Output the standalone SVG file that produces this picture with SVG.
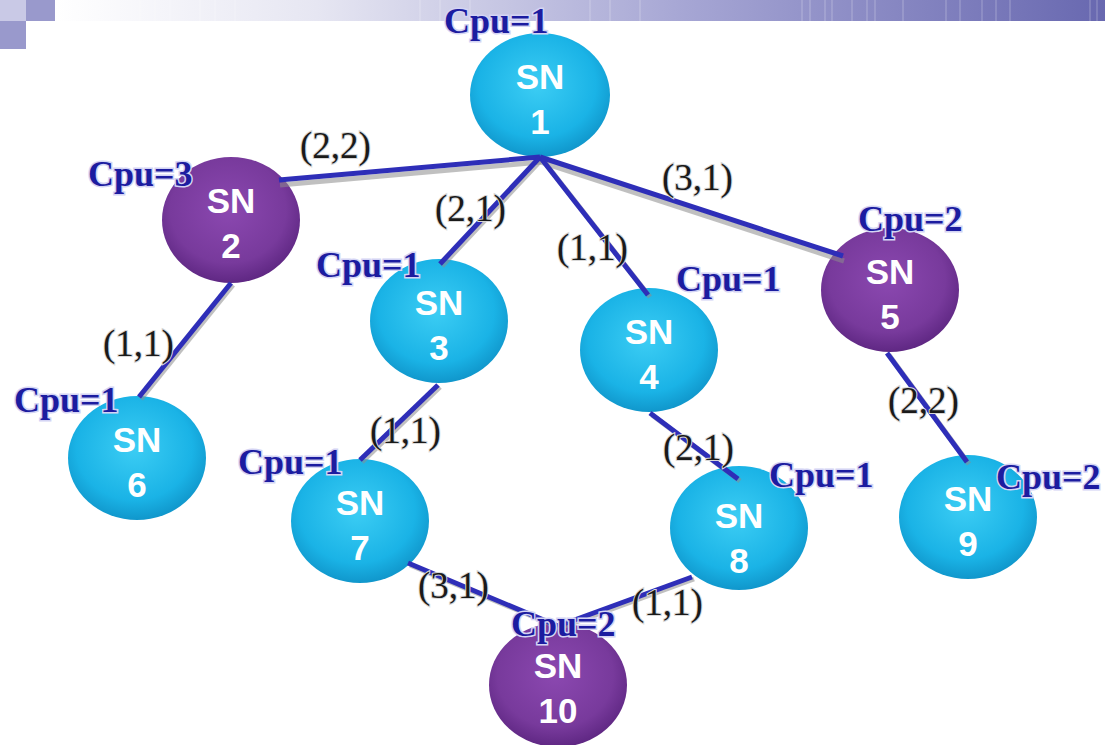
<svg xmlns="http://www.w3.org/2000/svg" width="1105" height="745" viewBox="0 0 1105 745">
  <defs>
    <linearGradient id="bannerGrad" x1="0" y1="0" x2="1" y2="0">
      <stop offset="0" stop-color="#ffffff"/>
      <stop offset="0.25" stop-color="#e6e6f2"/>
      <stop offset="0.6" stop-color="#a6a6d4"/>
      <stop offset="1" stop-color="#6868b0"/>
    </linearGradient>
    <radialGradient id="cyanFill" cx="0.48" cy="0.42" r="0.6">
      <stop offset="0" stop-color="#3ccdf4"/>
      <stop offset="0.7" stop-color="#1ab3e6"/>
      <stop offset="1" stop-color="#0f93c8"/>
    </radialGradient>
    <radialGradient id="purpleFill" cx="0.48" cy="0.42" r="0.6">
      <stop offset="0" stop-color="#8b48b0"/>
      <stop offset="0.7" stop-color="#783a9c"/>
      <stop offset="1" stop-color="#5c2580"/>
    </radialGradient>
    <style>
      .cyan { fill: url(#cyanFill); }
      .purple { fill: url(#purpleFill); }
      .sn { font-family: "Liberation Sans", Arial, sans-serif; font-weight: bold; font-size: 35px; fill: #ffffff; text-anchor: middle; }
      .link { stroke: #2e2eb8; stroke-width: 5; stroke-linecap: butt; fill: none; }
      .link-shadow { stroke: #8c8c8c; stroke-width: 5; opacity: 0.55; fill: none; }
      .weight { font-family: "Liberation Serif", "Times New Roman", serif; font-size: 37px; fill: #1a1a1a; stroke: #d8d8d8; stroke-width: 2; paint-order: stroke; }
      .cpu { font-family: "Liberation Serif", "Times New Roman", serif; font-weight: bold; font-size: 36px; fill: #1c1ca0; stroke: #d4d4f4; stroke-width: 3; paint-order: stroke; }
    </style>
  </defs>

  <!-- header band -->
  <g id="header">
    <rect x="55" y="0" width="1050" height="21" fill="url(#bannerGrad)"/>
    <g stroke="#ffffff" stroke-opacity="0.3" stroke-width="1">
      <line x1="140" y1="0" x2="140" y2="21"/>
      <line x1="155" y1="0" x2="155" y2="21"/>
      <line x1="170" y1="0" x2="170" y2="21"/>
      <line x1="200" y1="0" x2="200" y2="21"/>
      <line x1="215" y1="0" x2="215" y2="21"/>
      <line x1="235" y1="0" x2="235" y2="21"/>
      <line x1="420" y1="0" x2="420" y2="21"/>
      <line x1="440" y1="0" x2="440" y2="21"/>
      <line x1="470" y1="0" x2="470" y2="21"/>
      <line x1="590" y1="0" x2="590" y2="21"/>
      <line x1="610" y1="0" x2="610" y2="21"/>
      <line x1="640" y1="0" x2="640" y2="21"/>
      <line x1="802" y1="0" x2="802" y2="21"/>
      <line x1="810" y1="0" x2="810" y2="21"/>
      <line x1="825" y1="0" x2="825" y2="21"/>
      <line x1="832" y1="0" x2="832" y2="21"/>
      <line x1="852" y1="0" x2="852" y2="21"/>
      <line x1="867" y1="0" x2="867" y2="21"/>
      <line x1="875" y1="0" x2="875" y2="21"/>
      <line x1="903" y1="0" x2="903" y2="21"/>
      <line x1="946" y1="0" x2="946" y2="21"/>
      <line x1="960" y1="0" x2="960" y2="21"/>
      <line x1="982" y1="0" x2="982" y2="21"/>
      <line x1="996" y1="0" x2="996" y2="21"/>
      <line x1="1010" y1="0" x2="1010" y2="21"/>
      <line x1="1090" y1="0" x2="1090" y2="21"/>
      <line x1="1097" y1="0" x2="1097" y2="21"/>
    </g>
    <rect x="0" y="0" width="26" height="21" fill="#c9c9e6"/>
    <rect x="26" y="0" width="29" height="21" fill="#9999cc"/>
    <rect x="0" y="21" width="26" height="28" fill="#9999cc"/>
  </g>

  <!-- substrate nodes -->
  <g id="sn1">
    <ellipse class="cyan" cx="540" cy="95" rx="70" ry="62"/>
    <text class="sn" x="540" y="89">SN</text>
    <text class="sn" x="540" y="134">1</text>
  </g>
  <g id="sn2">
    <ellipse class="purple" cx="231" cy="220" rx="69" ry="63"/>
    <text class="sn" x="231" y="213">SN</text>
    <text class="sn" x="231" y="258">2</text>
  </g>
  <g id="sn3">
    <ellipse class="cyan" cx="439" cy="321" rx="69" ry="62"/>
    <text class="sn" x="439" y="315">SN</text>
    <text class="sn" x="439" y="360">3</text>
  </g>
  <g id="sn4">
    <ellipse class="cyan" cx="649" cy="350" rx="69" ry="62"/>
    <text class="sn" x="649" y="344">SN</text>
    <text class="sn" x="649" y="389">4</text>
  </g>
  <g id="sn5">
    <ellipse class="purple" cx="890" cy="290" rx="69" ry="62"/>
    <text class="sn" x="890" y="284">SN</text>
    <text class="sn" x="890" y="329">5</text>
  </g>
  <g id="sn6">
    <ellipse class="cyan" cx="137" cy="458" rx="69" ry="62"/>
    <text class="sn" x="137" y="452">SN</text>
    <text class="sn" x="137" y="497">6</text>
  </g>
  <g id="sn7">
    <ellipse class="cyan" cx="360" cy="521" rx="69" ry="62"/>
    <text class="sn" x="360" y="515">SN</text>
    <text class="sn" x="360" y="560">7</text>
  </g>
  <g id="sn8">
    <ellipse class="cyan" cx="739" cy="528" rx="69" ry="62"/>
    <text class="sn" x="739" y="528">SN</text>
    <text class="sn" x="739" y="573">8</text>
  </g>
  <g id="sn9">
    <ellipse class="cyan" cx="968" cy="517" rx="69" ry="62"/>
    <text class="sn" x="968" y="511">SN</text>
    <text class="sn" x="968" y="556">9</text>
  </g>
  <g id="sn10">
    <ellipse class="purple" cx="558" cy="685" rx="69" ry="62"/>
    <text class="sn" x="558" y="678">SN</text>
    <text class="sn" x="558" y="723">10</text>
  </g>

  <!-- links with (bandwidth, delay) weights -->
  <g id="connectors">
    <g transform="translate(1,5)">
      <line class="link-shadow" x1="540" y1="157" x2="279" y2="180"/>
      <line class="link-shadow" x1="540" y1="157" x2="843" y2="256"/>
    </g>
    <g transform="translate(2,2)">
      <line class="link-shadow" x1="540" y1="157" x2="440" y2="264"/>
      <line class="link-shadow" x1="540" y1="157" x2="648" y2="295"/>
      <line class="link-shadow" x1="231" y1="283" x2="139" y2="397"/>
      <line class="link-shadow" x1="438" y1="385" x2="360" y2="460"/>
      <line class="link-shadow" x1="650" y1="413" x2="738" y2="479"/>
      <line class="link-shadow" x1="887" y1="353" x2="967" y2="462"/>
      <line class="link-shadow" x1="408" y1="563" x2="558" y2="626"/>
      <line class="link-shadow" x1="692" y1="577" x2="558" y2="626"/>
    </g>
    <line class="link" x1="540" y1="157" x2="279" y2="180"/>
    <line class="link" x1="540" y1="157" x2="440" y2="264"/>
    <line class="link" x1="540" y1="157" x2="648" y2="295"/>
    <line class="link" x1="540" y1="157" x2="843" y2="256"/>
    <line class="link" x1="231" y1="283" x2="139" y2="397"/>
    <line class="link" x1="438" y1="385" x2="360" y2="460"/>
    <line class="link" x1="650" y1="413" x2="738" y2="479"/>
    <line class="link" x1="887" y1="353" x2="967" y2="462"/>
    <line class="link" x1="408" y1="563" x2="558" y2="626"/>
    <line class="link" x1="692" y1="577" x2="558" y2="626"/>

    <text class="weight" x="300" y="158">(2,2)</text>
    <text class="weight" x="435" y="221">(2,1)</text>
    <text class="weight" x="662" y="190">(3,1)</text>
    <text class="weight" x="557" y="260">(1,1)</text>
    <text class="weight" x="103" y="356">(1,1)</text>
    <text class="weight" x="370" y="443">(1,1)</text>
    <text class="weight" x="663" y="460">(2,1)</text>
    <text class="weight" x="888" y="413">(2,2)</text>
    <text class="weight" x="418" y="598">(3,1)</text>
    <text class="weight" x="632" y="615">(1,1)</text>
  </g>

  <!-- CPU capacity of each node -->
  <g id="cpu-capacities">
    <text class="cpu" x="444" y="33">Cpu=1</text>
    <text class="cpu" x="88" y="186">Cpu=3</text>
    <text class="cpu" x="316" y="277">Cpu=1</text>
    <text class="cpu" x="676" y="291">Cpu=1</text>
    <text class="cpu" x="858" y="231">Cpu=2</text>
    <text class="cpu" x="14" y="412">Cpu=1</text>
    <text class="cpu" x="238" y="474">Cpu=1</text>
    <text class="cpu" x="769" y="487">Cpu=1</text>
    <text class="cpu" x="996" y="489">Cpu=2</text>
    <text class="cpu" x="511" y="636">Cpu=2</text>
  </g>
</svg>
